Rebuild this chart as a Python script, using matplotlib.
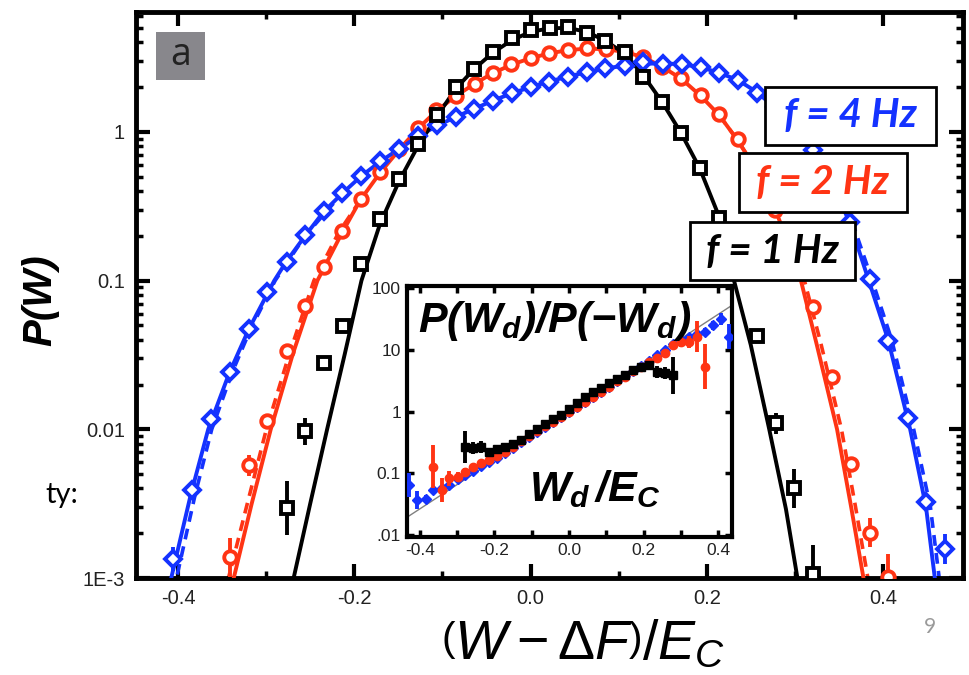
import numpy as np
import matplotlib
matplotlib.use("Agg")
import matplotlib.pyplot as plt
from matplotlib.patches import Rectangle
from matplotlib.ticker import FixedLocator, FixedFormatter, NullLocator, NullFormatter

plt.rcParams['font.family'] = ['Liberation Sans', 'DejaVu Sans']
plt.rcParams['mathtext.fontset'] = 'custom'
plt.rcParams['mathtext.rm'] = 'Liberation Sans'
plt.rcParams['mathtext.it'] = 'Liberation Sans:italic'
plt.rcParams['mathtext.bf'] = 'Liberation Sans:bold'
plt.rcParams['mathtext.bfit'] = 'Liberation Sans:bold:italic'

# ---------------- main panel data ----------------
blk_x = [-0.277, -0.256, -0.235, -0.213, -0.193, -0.171, -0.149, -0.128, -0.106, -0.085,
         -0.064, -0.043, -0.021, 0.001, 0.022, 0.043, 0.064, 0.085, 0.107, 0.128,
         0.149, 0.171, 0.192, 0.214, 0.236, 0.257, 0.279, 0.299, 0.321]
blk_y = [0.00295, 0.00968, 0.0281, 0.0497, 0.130, 0.261, 0.483, 0.826, 1.30, 2.00,
         2.64, 3.47, 4.25, 4.83, 5.00, 5.04, 4.62, 4.07, 3.44, 2.33,
         1.58, 0.98, 0.570, 0.263, 0.114, 0.0425, 0.0110, 0.0040, 0.00107]
blk_err = [0.18, 0.09, 0.04, 0.01, 0, 0, 0, 0, 0, 0,
           0, 0, 0, 0, 0, 0, 0, 0, 0, 0,
           0, 0, 0, 0, 0.01, 0.03, 0.07, 0.13, 0.19]

red_x = [-0.341, -0.320, -0.299, -0.277, -0.256, -0.235, -0.214, -0.193, -0.171, -0.149,
         -0.128, -0.107, -0.085, -0.063, -0.043, -0.022, 0.000, 0.021, 0.043, 0.064,
         0.086, 0.107, 0.128, 0.149, 0.171, 0.193, 0.214, 0.235, 0.257, 0.278,
         0.299, 0.321, 0.342, 0.364, 0.385, 0.406]
red_y = [0.00138, 0.00571, 0.01143, 0.0336, 0.0677, 0.1235, 0.2164, 0.355, 0.538, 0.765,
         1.07, 1.40, 1.74, 2.11, 2.49, 2.85, 3.14, 3.37, 3.57, 3.64,
         3.60, 3.46, 3.20, 2.74, 2.31, 1.77, 1.32, 0.893, 0.553, 0.297,
         0.148, 0.0661, 0.0223, 0.00581, 0.00202, 0.00102]
red_err = [0.13, 0.07, 0.02, 0.01, 0, 0, 0, 0, 0, 0,
           0, 0, 0, 0, 0, 0, 0, 0, 0, 0,
           0, 0, 0, 0, 0, 0, 0, 0, 0, 0,
           0, 0.01, 0.02, 0.03, 0.10, 0.15]

blu_x = [-0.406, -0.384, -0.3625, -0.3415, -0.320, -0.299, -0.277, -0.256, -0.235, -0.214,
         -0.193, -0.171, -0.149, -0.128, -0.106, -0.085, -0.064, -0.043, -0.021, 0.000,
         0.021, 0.043, 0.064, 0.085, 0.107, 0.128, 0.150, 0.172, 0.193, 0.214,
         0.236, 0.257, 0.278, 0.299, 0.321, 0.342, 0.363, 0.385, 0.406, 0.428,
         0.449, 0.471]
blu_y = [0.00135, 0.00392, 0.0117, 0.0241, 0.0475, 0.0834, 0.133, 0.203, 0.293, 0.387,
         0.503, 0.635, 0.773, 0.943, 1.11, 1.25, 1.43, 1.62, 1.82, 2.01,
         2.18, 2.35, 2.52, 2.69, 2.79, 2.96, 2.88, 2.87, 2.71, 2.48,
         2.23, 1.83, 1.47, 1.09, 0.753, 0.459, 0.247, 0.103, 0.0395, 0.0120,
         0.00322, 0.00156]
blu_err = [0.08, 0.02, 0.01, 0, 0, 0, 0, 0, 0, 0,
           0, 0, 0, 0, 0, 0, 0, 0, 0, 0,
           0, 0, 0, 0, 0, 0, 0, 0, 0, 0,
           0, 0, 0, 0, 0, 0, 0, 0, 0.01, 0.01,
           0.03, 0.10]

# fitted curves (solid)
blk_fit_x = [-0.275, -0.269, -0.250, -0.231, -0.211, -0.192, -0.171, -0.149, -0.128, -0.106,
             -0.085, -0.064, -0.043, -0.021, 0.0, 0.022, 0.043, 0.064, 0.085, 0.107,
             0.128, 0.149, 0.171, 0.192, 0.214, 0.231, 0.250, 0.271, 0.290, 0.303, 0.309]
blk_fit_y = [0.0006, 0.001, 0.0032, 0.01, 0.032, 0.1, 0.24, 0.47, 0.80, 1.28,
             1.95, 2.65, 3.4, 4.15, 4.7, 4.98, 5.0, 4.7, 4.1, 3.35,
             2.4, 1.6, 0.98, 0.57, 0.27, 0.10, 0.037, 0.01, 0.0029, 0.001, 0.0006]

red_fit_x = [-0.342, -0.337, -0.317, -0.295, -0.270, -0.242, -0.214, -0.193, -0.171, -0.149,
             -0.128, -0.107, -0.085, -0.064, -0.043, -0.021, 0.0, 0.021, 0.043, 0.064,
             0.085, 0.107, 0.128, 0.149, 0.171, 0.193, 0.214, 0.235, 0.257, 0.278,
             0.292, 0.307, 0.325, 0.348, 0.364, 0.378, 0.384]
red_fit_y = [0.0007, 0.001, 0.0031, 0.01, 0.032, 0.1, 0.21, 0.35, 0.53, 0.76,
             1.05, 1.38, 1.74, 2.1, 2.48, 2.84, 3.13, 3.37, 3.55, 3.63,
             3.60, 3.45, 3.18, 2.75, 2.28, 1.75, 1.30, 0.88, 0.55, 0.30,
             0.18, 0.10, 0.037, 0.01, 0.003, 0.001, 0.0006]

blu_fit_x = [-0.410, -0.408, -0.386, -0.366, -0.342, -0.320, -0.291, -0.277, -0.256, -0.235,
             -0.214, -0.193, -0.171, -0.149, -0.128, -0.106, -0.085, -0.064, -0.043, -0.021,
             0.0, 0.021, 0.043, 0.064, 0.085, 0.107, 0.128, 0.150, 0.172, 0.193,
             0.214, 0.236, 0.257, 0.278, 0.299, 0.321, 0.342, 0.363, 0.384, 0.406,
             0.431, 0.449, 0.459, 0.462]
blu_fit_y = [0.0008, 0.001, 0.0036, 0.01, 0.024, 0.047, 0.1, 0.135, 0.20, 0.29,
             0.385, 0.50, 0.63, 0.77, 0.93, 1.10, 1.26, 1.43, 1.62, 1.82,
             2.0, 2.18, 2.36, 2.52, 2.67, 2.79, 2.87, 2.89, 2.85, 2.72,
             2.50, 2.22, 1.85, 1.45, 1.08, 0.74, 0.46, 0.24, 0.10, 0.04,
             0.01, 0.003, 0.001, 0.0007]

# dashed curves (second model), tails
red_dl_x = [-0.349, -0.343, -0.322, -0.300, -0.274, -0.246, -0.218, -0.193]
red_dl_y = [0.0007, 0.001, 0.0031, 0.01, 0.032, 0.1, 0.21, 0.35]
red_dr_x = [0.214, 0.235, 0.257, 0.280, 0.296, 0.311, 0.330, 0.353, 0.369, 0.383, 0.389]
red_dr_y = [1.30, 0.88, 0.55, 0.30, 0.18, 0.10, 0.037, 0.01, 0.003, 0.001, 0.0006]
blu_dl_x = [-0.404, -0.402, -0.381, -0.362, -0.339, -0.318, -0.290, -0.256, -0.214]
blu_dl_y = [0.0008, 0.001, 0.0036, 0.01, 0.024, 0.047, 0.1, 0.20, 0.385]
blu_dr_x = [0.257, 0.279, 0.301, 0.323, 0.345, 0.366, 0.388, 0.410, 0.435, 0.454, 0.464, 0.468]
blu_dr_y = [1.85, 1.45, 1.08, 0.74, 0.46, 0.24, 0.10, 0.04, 0.01, 0.003, 0.001, 0.0007]

main_xticks = [-0.4, -0.2, 0.0, 0.2, 0.4]
main_xtick_labels = ['-0.4', '-0.2', '0.0', '0.2', '0.4']
main_yticks = [1e-3, 1e-2, 1e-1, 1]
main_ytick_labels = ['1E-3', '0.01', '0.1', '1']

legend_labels = ['f = 4 Hz', 'f = 2 Hz', 'f = 1 Hz']

# ---------------- inset data ----------------
ins_blu_x = [-0.428, -0.407, -0.385, -0.364, -0.342, -0.321, -0.299, -0.278, -0.257, -0.235,
             -0.214, -0.193, -0.171, -0.150, -0.128, -0.107, -0.086, -0.064, -0.043, -0.021,
             0.000, 0.021, 0.043, 0.064, 0.086, 0.107, 0.128, 0.150, 0.171, 0.193,
             0.214, 0.235, 0.257, 0.278, 0.299, 0.321, 0.342, 0.364, 0.385, 0.407, 0.428]
ins_blu_y = [0.065, 0.037, 0.039, 0.054, 0.058, 0.066, 0.080, 0.094, 0.11, 0.13,
             0.155, 0.18, 0.215, 0.26, 0.32, 0.39, 0.47, 0.57, 0.69, 0.83,
             1.0, 1.2, 1.45, 1.75, 2.1, 2.55, 3.1, 3.75, 4.6, 5.6,
             6.7, 8.3, 10, 12.5, 14.5, 16.4, 18, 19.8, 25, 32, 16.4]
ins_blu_err = [0.2, 0.15, 0.06, 0.04, 0.03, 0.02, 0.02, 0.02, 0, 0,
               0, 0, 0, 0, 0, 0, 0, 0, 0, 0,
               0, 0, 0, 0, 0, 0, 0, 0, 0, 0,
               0, 0.02, 0.02, 0.03, 0.03, 0.04, 0.05, 0.06, 0.08, 0.1, 0.2]

ins_red_x = [-0.364, -0.342, -0.321, -0.299, -0.278, -0.257, -0.235, -0.214, -0.193, -0.171,
             -0.150, -0.128, -0.107, -0.086, -0.064, -0.043, -0.021, 0.000, 0.021, 0.043,
             0.064, 0.086, 0.107, 0.128, 0.150, 0.171, 0.193, 0.214, 0.235, 0.257,
             0.278, 0.299, 0.321, 0.342, 0.364]
ins_red_y = [0.128, 0.054, 0.083, 0.088, 0.107, 0.129, 0.146, 0.166, 0.19, 0.22,
             0.27, 0.33, 0.40, 0.48, 0.58, 0.69, 0.83, 1.0, 1.21, 1.45,
             1.75, 2.1, 2.55, 3.1, 3.7, 4.5, 5.4, 6.4, 7.3, 8.8,
             12, 13.6, 13.6, 16.4, 5.4]
ins_red_err = [0.35, 0.2, 0.12, 0.08, 0.05, 0.03, 0.02, 0.02, 0, 0,
               0, 0, 0, 0, 0, 0, 0, 0, 0, 0,
               0, 0, 0, 0, 0, 0, 0, 0.02, 0.02, 0.03,
               0.05, 0.08, 0.1, 0.25, 0.37]

ins_blk_x = [-0.278, -0.257, -0.235, -0.214, -0.193, -0.171, -0.150, -0.128, -0.107, -0.086,
             -0.064, -0.043, -0.021, 0.000, 0.021, 0.043, 0.064, 0.086, 0.107, 0.128,
             0.150, 0.171, 0.193, 0.214, 0.235, 0.257, 0.278]
ins_blk_y = [0.27, 0.255, 0.27, 0.225, 0.245, 0.27, 0.30, 0.35, 0.43, 0.52,
             0.64, 0.77, 0.9, 1.1, 1.4, 1.7, 2.05, 2.45, 2.95, 3.45,
             4.0, 4.7, 5.4, 5.7, 4.45, 4.2, 3.9]
ins_blk_err = [0.26, 0.1, 0.1, 0.03, 0.02, 0.02, 0, 0, 0, 0,
               0, 0, 0, 0, 0, 0, 0, 0, 0, 0,
               0, 0, 0, 0.02, 0.1, 0.1, 0.3]

ins_line_x = [-0.436, 0.437]
ins_line_y = [0.0192, 53.0]

ins_xticks = [-0.4, -0.2, 0.0, 0.2, 0.4]
ins_xtick_labels = ['-0.4', '-0.2', '0.0', '0.2', '0.4']
ins_yticks = [0.01, 0.1, 1, 10, 100]
ins_ytick_labels = ['.01', '0.1', '1', '10', '100']

# ---------------- styling ----------------
BLUE = '#1432ff'
RED = '#ff3414'
BLACK = '#000000'
W, H = 969, 675


def logerr(y, e):
    y = np.asarray(y, float)
    e = np.asarray(e, float)
    return np.vstack([y - y * 10 ** (-e), y * 10 ** e - y])


def fr(x0, y0, x1, y1):
    return (x0 / W, 1 - y1 / H, (x1 - x0) / W, (y1 - y0) / H)


fig = plt.figure(figsize=(W / 100, H / 100), dpi=100)
ax = fig.add_axes(fr(136, 12, 963, 578))

# curves
ax.plot(red_dl_x, red_dl_y, color=RED, lw=2.6, ls=(0, (3, 2)), zorder=2)
ax.plot(red_dr_x, red_dr_y, color=RED, lw=2.6, ls=(0, (3, 2)), zorder=2)
ax.plot(blu_dl_x, blu_dl_y, color=BLUE, lw=2.6, ls=(0, (3, 2)), zorder=2)
ax.plot(blu_dr_x, blu_dr_y, color=BLUE, lw=2.6, ls=(0, (3, 2)), zorder=2)
ax.plot(red_fit_x, red_fit_y, color=RED, lw=2.8, zorder=3)
ax.plot(blu_fit_x, blu_fit_y, color=BLUE, lw=2.8, zorder=3)
ax.plot(blk_fit_x, blk_fit_y, color=BLACK, lw=2.8, zorder=3)

# data points
ax.errorbar(red_x, red_y, yerr=logerr(red_y, red_err), fmt='o', ms=9, mfc='white',
            mec=RED, mew=2.8, ecolor=RED, elinewidth=2.8, capsize=0, zorder=4)
ax.errorbar(blu_x, blu_y, yerr=logerr(blu_y, blu_err), fmt='D', ms=8.5, mfc='white',
            mec=BLUE, mew=2.8, ecolor=BLUE, elinewidth=2.8, capsize=0, zorder=5)
ax.errorbar(blk_x, blk_y, yerr=logerr(blk_y, blk_err), fmt='s', ms=8, mfc='white',
            mec=BLACK, mew=2.8, ecolor=BLACK, elinewidth=2.8, capsize=0, zorder=6)

ax.set_yscale('log')
ax.set_xlim(-0.448, 0.491)
ax.set_ylim(1e-3, 6.4)
ax.xaxis.set_major_locator(FixedLocator(main_xticks))
ax.xaxis.set_major_formatter(FixedFormatter(main_xtick_labels))
ax.xaxis.set_minor_locator(FixedLocator([-0.3, -0.1, 0.1, 0.3]))
ax.yaxis.set_major_locator(FixedLocator(main_yticks))
ax.yaxis.set_major_formatter(FixedFormatter(main_ytick_labels))
minor_y = [m * 10.0 ** d for d in (-3, -2, -1, 0) for m in range(2, 10)]
ax.yaxis.set_minor_locator(FixedLocator(minor_y))
ax.yaxis.set_minor_formatter(NullFormatter())
ax.tick_params(which='both', direction='in', top=True, right=True, colors='black',
               labelcolor='#222222', labelsize=14.5)
ax.tick_params(which='major', length=10, width=3, pad=8)
ax.tick_params(which='minor', length=5, width=2.5)
for s in ax.spines.values():
    s.set_linewidth(3.5)

# ---------------- inset ----------------
ins = fig.add_axes(fr(406.5, 286, 732, 537))
ins.plot(ins_line_x, ins_line_y, color='#808080', lw=1.0, zorder=2)
ins.errorbar(ins_blu_x, ins_blu_y, yerr=logerr(ins_blu_y, ins_blu_err), fmt='D', ms=5.5,
             mfc=BLUE, mec=BLUE, ecolor=BLUE, elinewidth=2.8, capsize=0, zorder=3)
ins.errorbar(ins_red_x, ins_red_y, yerr=logerr(ins_red_y, ins_red_err), fmt='o', ms=6,
             mfc=RED, mec=RED, ecolor=RED, elinewidth=2.8, capsize=0, zorder=4)
ins.errorbar(ins_blk_x, ins_blk_y, yerr=logerr(ins_blk_y, ins_blk_err), fmt='s', ms=6,
             mfc=BLACK, mec=BLACK, ecolor=BLACK, elinewidth=2.8, capsize=0, zorder=5)
ins.set_yscale('log')
ins.set_xlim(-0.436, 0.437)
ins.set_ylim(0.0093, 109)
ins.xaxis.set_major_locator(FixedLocator(ins_xticks))
ins.xaxis.set_major_formatter(FixedFormatter(ins_xtick_labels))
ins.xaxis.set_minor_locator(FixedLocator([-0.3, -0.1, 0.1, 0.3]))
ins.yaxis.set_major_locator(FixedLocator(ins_yticks))
ins.yaxis.set_major_formatter(FixedFormatter(ins_ytick_labels))
ins.yaxis.set_minor_locator(NullLocator())
ins.tick_params(which='both', direction='in', top=True, right=True, length=5, width=2.5,
                labelsize=12.5, labelcolor='#222222', pad=4)
for s in ins.spines.values():
    s.set_linewidth(3)
ins.text(0.035, 0.95, r'$\mathbfit{P(W_d)/P(-W_d)}$', transform=ins.transAxes,
         fontsize=31, ha='left', va='top', zorder=10)
ins.text(0.58, 0.19, r'$\mathbfit{W_d\,/E_C}$', transform=ins.transAxes,
         fontsize=31, ha='center', va='center', zorder=10)

# ---------------- annotation boxes ----------------
box_px = [(765, 87, 936, 145), (739, 153, 907, 212), (690, 222, 855, 280)]
box_col = [BLUE, RED, BLACK]
for (x0, y0, x1, y1), lab, col in zip(box_px, legend_labels, box_col):
    fig.add_artist(Rectangle(fr(x0, y0, x1, y1)[:2], (x1 - x0) / W, (y1 - y0) / H,
                             transform=fig.transFigure, fc='white', ec='black', lw=2,
                             zorder=20))
    fig.text((x0 + x1) / 2 / W, 1 - (y0 + y1) / 2 / H, lab, color=col,
             family=['Lato', 'DejaVu Sans'], weight='bold', style='italic', fontsize=29,
             ha='center', va='center', zorder=21)

# panel label "a"
fig.add_artist(Rectangle(fr(156, 32, 205, 80)[:2], 49 / W, 48 / H, transform=fig.transFigure,
                         fc='#88878c', ec='none', zorder=20))
fig.text(180.5 / W, 1 - 55 / H, 'a', color='#222222', fontsize=27, ha='center', va='center',
         family=['Open Sans', 'DejaVu Sans'], zorder=21)

# axis labels
fig.text(40 / W, 1 - 300 / H, 'P(W)', rotation=90, fontsize=29, weight='bold', style='italic',
         ha='center', va='center')
fig.text(583 / W, 1 - 645 / H, r'$\left(W-\Delta F\right)/E_C$', fontsize=40,
         ha='center', va='center')

# slide residue
fig.text(62 / W, 1 - 495 / H, 'ty:', fontsize=21, family=['Lato', 'DejaVu Sans'],
         ha='center', va='center')
fig.text(930 / W, 1 - 627 / H, '9', fontsize=15, color='#9a9a9a',
         family=['Lato', 'DejaVu Sans'], ha='center', va='center')

fig.savefig('out.png', dpi=100)
